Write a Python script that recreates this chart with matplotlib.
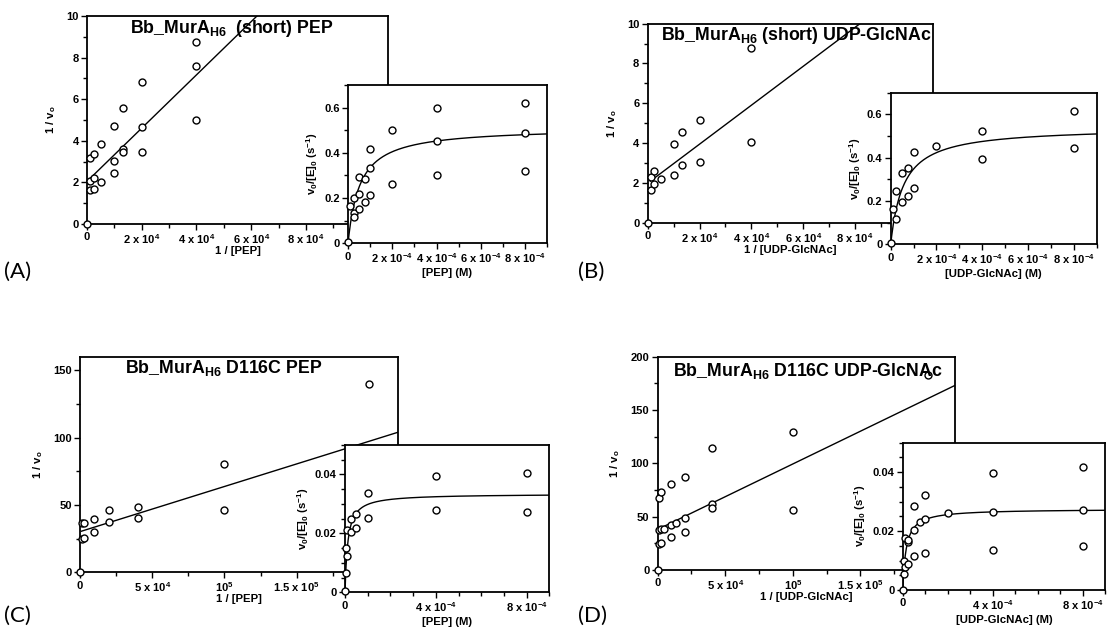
import numpy as np
import matplotlib
matplotlib.use('Agg')
from matplotlib import pyplot as plt
from matplotlib.ticker import MultipleLocator, FuncFormatter

plt.rcParams['font.family'] = ['Liberation Sans', 'DejaVu Sans']
plt.rcParams['font.weight'] = 'bold'
plt.rcParams['axes.labelweight'] = 'bold'
plt.rcParams['mathtext.default'] = 'regular'

# ---- (A) short, PEP ----
a_inv_x = [0, 1250, 1250, 1250, 2500, 2500, 2500, 5000, 5000, 1e4, 1e4, 1e4,
           13333, 13333, 13333, 2e4, 2e4, 2e4, 4e4, 4e4, 4e4]
a_inv_y = [0, 3.17, 2.08, 1.62, 3.37, 2.23, 1.68, 3.85, 2.02, 4.73, 3.01, 2.44,
           5.59, 3.62, 3.48, 6.84, 4.65, 3.45, 8.77, 7.58, 5.02]
a_fit = (2.05, 1.28e-4)          # intercept, slope
a_s = [0, 1e-5, 2.5e-5, 2.5e-5, 2.5e-5, 5e-5, 5e-5, 5e-5, 7.5e-5, 7.5e-5,
       1e-4, 1e-4, 1e-4, 2e-4, 2e-4, 4e-4, 4e-4, 4e-4, 8e-4, 8e-4, 8e-4]
a_v = [0.004, 0.166, 0.201, 0.136, 0.118, 0.292, 0.218, 0.150, 0.286, 0.182,
       0.415, 0.335, 0.215, 0.502, 0.262, 0.597, 0.453, 0.301, 0.622, 0.487, 0.320]
a_mm = (0.512, 5.3e-5)           # Vmax, Km

# ---- (B) short, UDP-GlcNAc ----
b_inv_x = [0, 1250, 1250, 2500, 2500, 5000, 1e4, 1e4, 13333, 13333, 2e4, 2e4, 4e4, 4e4]
b_inv_y = [0, 1.64, 2.29, 1.94, 2.60, 2.21, 2.40, 3.94, 2.90, 4.56, 3.05, 5.18, 4.05, 8.79]
b_fit = (1.99, 9.78e-5)
b_s = [0, 1e-5, 2.5e-5, 2.5e-5, 5e-5, 5e-5, 7.5e-5, 7.5e-5, 1e-4, 1e-4,
       2e-4, 4e-4, 4e-4, 8e-4, 8e-4]
b_v = [0.005, 0.162, 0.248, 0.116, 0.330, 0.196, 0.350, 0.222, 0.426, 0.258,
       0.455, 0.523, 0.392, 0.615, 0.443]
b_mm = (0.541, 5.56e-5)

# ---- (C) D116C, PEP ----
c_inv_x = [0, 1250, 1250, 2500, 2500, 1e4, 1e4, 2e4, 2e4, 4e4, 4e4, 1e5, 1e5, 2e5]
c_inv_y = [0, 36.9, 24.8, 36.4, 25.8, 39.7, 30.0, 46.1, 37.7, 48.6, 40.2, 80.1, 46.4, 140]
c_fit = (30.2, 3.35e-4)
c_s = [0, 5e-6, 5e-6, 1e-5, 1e-5, 2.5e-5, 2.5e-5, 5e-5, 5e-5, 1e-4, 1e-4,
       4e-4, 4e-4, 8e-4, 8e-4]
c_v = [0.0003, 0.0066, 0.0151, 0.0124, 0.0213, 0.0248, 0.0203, 0.0264, 0.0217,
       0.0336, 0.0251, 0.0393, 0.0278, 0.0404, 0.0271]
c_mm = (0.0334, 1.2e-5)

# ---- (D) D116C, UDP-GlcNAc ----
d_inv_x = [0, 1250, 1250, 1250, 2500, 2500, 2500, 5000, 1e4, 1e4, 1e4, 13333,
           2e4, 2e4, 2e4, 4e4, 4e4, 4e4, 1e5, 1e5, 2e5]
d_inv_y = [0, 67.8, 37.5, 24.4, 72.8, 38.5, 25.6, 38.75, 80.6, 42.2, 31.3, 43.75,
           87.5, 49.1, 35.3, 114, 61.6, 58.4, 129.4, 56.6, 183]
d_fit = (38.0, 6.14e-4)
d_s = [0, 5e-6, 5e-6, 1e-5, 1e-5, 2.5e-5, 2.5e-5, 2.5e-5, 5e-5, 5e-5, 5e-5,
       7.5e-5, 1e-4, 1e-4, 1e-4, 2e-4, 4e-4, 4e-4, 4e-4, 8e-4, 8e-4, 8e-4]
d_v = [0.0, 0.0055, 0.0097, 0.0077, 0.0177, 0.0088, 0.0164, 0.0171, 0.0115,
       0.0205, 0.0286, 0.023, 0.0124, 0.024, 0.0322, 0.026, 0.0137, 0.0263,
       0.0398, 0.0148, 0.027, 0.0417]
d_mm = (0.0275, 1.5e-5)

SUB = '$_{\\mathregular{H6}}$'
titles = ['Bb_MurA' + SUB + '  (short) PEP',
          'Bb_MurA' + SUB + ' (short) UDP-GlcNAc',
          'Bb_MurA' + SUB + ' D116C PEP',
          'Bb_MurA' + SUB + ' D116C UDP-GlcNAc']
subs = ['PEP', 'UDP-GlcNAc', 'PEP', 'UDP-GlcNAc']
panel_names = ['(A)', '(B)', '(C)', '(D)']


def sci(v, pos):
    if abs(v) < 1e-12:
        return '0'
    e = int(np.floor(np.log10(abs(v)) + 1e-9))
    m = v / 10 ** e
    ex = '$^{\\mathregular{%d}}$' % e
    if abs(m - 1) < 1e-6:
        return '10' + ex
    return '%g x 10' % round(m, 3) + ex


def plain(v, pos):
    if abs(v) < 1e-12:
        return '0'
    return '%g' % v


def style(ax):
    for sp in ax.spines.values():
        sp.set_linewidth(1.3)
    ax.tick_params(which='major', direction='out', length=4, width=1, labelsize=8, pad=2)
    ax.tick_params(which='minor', direction='out', length=3, width=1)


def scatter(ax, x, y):
    ax.plot(x, y, 'o', ms=5, mfc='white', mec='black', mew=1.0, clip_on=False, zorder=5)


fig = plt.figure(figsize=(11.07, 6.35), dpi=100)

main_pos = [[0.0786, 0.6472, 0.2719, 0.3276],
            [0.5851, 0.6493, 0.2575, 0.3134],
            [0.0723, 0.0987, 0.2870, 0.3395],
            [0.5941, 0.1024, 0.2686, 0.3359]]
ins_pos = [[0.3144, 0.6169, 0.1798, 0.2493],
           [0.8046, 0.6153, 0.1861, 0.2387],
           [0.3117, 0.0673, 0.1846, 0.2320],
           [0.8155, 0.0709, 0.1830, 0.2320]]
title_xy = [(0.143, 0.942), (0.047, 0.943), (0.142, 0.948), (0.051, 0.933)]
label_xy = [(0.004, 0.572), (0.522, 0.572), (0.004, 0.030), (0.522, 0.030)]

inv_x = [a_inv_x, b_inv_x, c_inv_x, d_inv_x]
inv_y = [a_inv_y, b_inv_y, c_inv_y, d_inv_y]
fits = [a_fit, b_fit, c_fit, d_fit]
conc = [a_s, b_s, c_s, d_s]
rate = [a_v, b_v, c_v, d_v]
mms = [a_mm, b_mm, c_mm, d_mm]

main_xlim = [1.1e5, 1.1e5, 2.2e5, 2.2e5]
main_ylim = [10, 10, 160, 200]
main_xmaj = [2e4, 2e4, 5e4, 5e4]
main_ymaj = [2, 2, 50, 50]
main_ymin = [1, 1, 25, 25]
ins_ylim = [0.7, 0.7, 0.05, 0.05]
ins_xmaj = [2e-4, 2e-4, 4e-4, 4e-4]
ins_ymaj = [0.2, 0.2, 0.02, 0.02]
ins_ymin = [0.1, 0.1, 0.005, 0.005]

for i in range(4):
    ax = fig.add_axes(main_pos[i])
    style(ax)
    b0, k = fits[i]
    xl = np.linspace(1000, main_xlim[i], 200)
    ax.plot(xl, b0 + k * xl, color='black', lw=1.0)
    scatter(ax, inv_x[i], inv_y[i])
    ax.set_xlim(0, main_xlim[i])
    ax.set_ylim(0, main_ylim[i])
    ax.xaxis.set_major_locator(MultipleLocator(main_xmaj[i]))
    ax.xaxis.set_minor_locator(MultipleLocator(main_xmaj[i] / 2))
    ax.yaxis.set_major_locator(MultipleLocator(main_ymaj[i]))
    ax.yaxis.set_minor_locator(MultipleLocator(main_ymin[i]))
    ax.xaxis.set_major_formatter(FuncFormatter(sci))
    ax.set_xlabel('1 / [%s]' % subs[i], fontsize=8.2, labelpad=0)
    ax.set_ylabel('1 / v$_{\\mathregular{o}}$', fontsize=8.2, labelpad=6)
    ax.text(title_xy[i][0], title_xy[i][1], titles[i], transform=ax.transAxes,
            fontsize=12.8, fontweight='bold', ha='left', va='center', zorder=6)

    ins = fig.add_axes(ins_pos[i])
    ins.set_facecolor('white')
    style(ins)
    vm, km = mms[i]
    xs = np.linspace(0, 9e-4, 400)
    ins.plot(xs, vm * xs / (km + xs), color='black', lw=1.0)
    scatter(ins, conc[i], rate[i])
    ins.set_xlim(0, 9e-4)
    ins.set_ylim(0, ins_ylim[i])
    ins.xaxis.set_major_locator(MultipleLocator(ins_xmaj[i]))
    ins.xaxis.set_minor_locator(MultipleLocator(1e-4))
    ins.yaxis.set_major_locator(MultipleLocator(ins_ymaj[i]))
    ins.yaxis.set_minor_locator(MultipleLocator(ins_ymin[i]))
    ins.xaxis.set_major_formatter(FuncFormatter(sci))
    ins.yaxis.set_major_formatter(FuncFormatter(plain))
    ins.set_xlabel('[%s] (M)' % subs[i], fontsize=8.2, labelpad=2)
    ins.set_ylabel('v$_{\\mathregular{0}}$/[E]$_{\\mathregular{0}}$ (s$^{\\mathregular{-1}}$)',
                   fontsize=8.2, labelpad=3)

    fig.text(label_xy[i][0], label_xy[i][1], panel_names[i], fontsize=16,
             family='Lato', fontweight='normal', ha='left', va='center')

fig.savefig('out.png', dpi=100)
